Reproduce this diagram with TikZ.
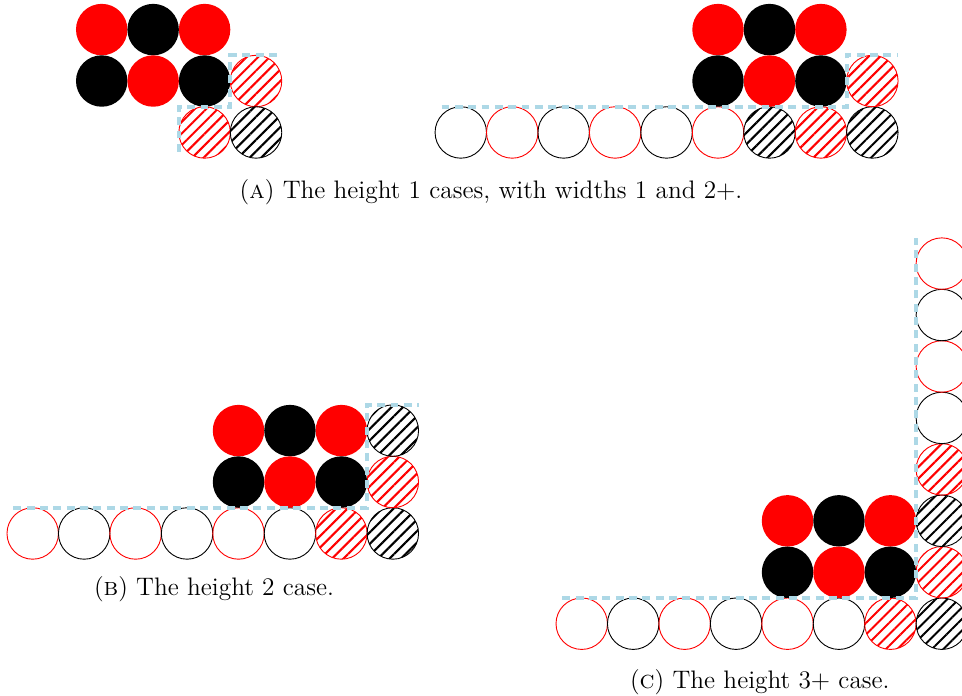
\documentclass[tikz,border=0pt]{standalone}
\usetikzlibrary{patterns.meta}
\definecolor{dashblue}{RGB}{173,216,230}

\begin{document}
\begin{tikzpicture}[x=0.8cm, y=0.8cm,
    redring/.style={draw=red, line width=0.4pt},
    blackring/.style={draw=black, line width=0.4pt},
    redhatch/.style={draw=red, line width=0.4pt, pattern={Lines[angle=45,distance=3.6pt,line width=0.9pt]}, pattern color=red},
    blackhatch/.style={draw=black, line width=0.4pt, pattern={Lines[angle=45,distance=3.6pt,line width=0.9pt]}, pattern color=black},
    frontier/.style={dashblue, line width=1.7pt, dash pattern=on 3.5pt off 2.4pt},
    subcap/.style={anchor=base, font=\fontsize{11.2pt}{13.6pt}\selectfont}]
    \useasboundingbox (0,0) rectangle (18.70,13.51);
    \clip (0,0) rectangle (18.70,13.51);

    % --- (a) left: height 1, width 1 ---
    \begin{scope}[shift={(1.977,10.935)}]
        \foreach \x/\y/\c in {0/2/red, 1/2/black, 2/2/red, 0/1/black, 1/1/red, 2/1/black}
            \fill[\c] (\x,\y) circle (0.5);
        \draw[redhatch] (3,1) circle (0.5);
        \draw[redhatch] (2,0) circle (0.5);
        \draw[blackhatch] (3,0) circle (0.5);
        \draw[frontier] (1.5,-0.375) -- (1.5,0.5) -- (2.5,0.5) -- (2.5,1.5) -- (3.5,1.5);
    \end{scope}

    % --- (a) right: height 1, width 2+ ---
    \begin{scope}[shift={(8.957,10.935)}]
        \foreach \x/\c in {0/black, 1/red, 2/black, 3/red, 4/black, 5/red}
            \draw[\c ring] (\x,0) circle (0.5);
        \draw[blackhatch] (6,0) circle (0.5);
        \draw[redhatch] (7,0) circle (0.5);
        \draw[blackhatch] (8,0) circle (0.5);
        \foreach \x/\y/\c in {5/2/red, 6/2/black, 7/2/red, 5/1/black, 6/1/red, 7/1/black}
            \fill[\c] (\x,\y) circle (0.5);
        \draw[redhatch] (8,1) circle (0.5);
        \draw[frontier] (-0.375,0.5) -- (7.5,0.5) -- (7.5,1.5) -- (8.5,1.5);
    \end{scope}

    \node[subcap] (capA) at (9.545,9.66) {(\textsc{a}) The height 1 cases, with widths 1 and 2+.};

    % --- (b) height 2 ---
    \begin{scope}[shift={(0.636,3.140)}]
        \foreach \x/\c in {0/red, 1/black, 2/red, 3/black, 4/red, 5/black}
            \draw[\c ring] (\x,0) circle (0.5);
        \draw[redhatch] (6,0) circle (0.5);
        \draw[blackhatch] (7,0) circle (0.5);
        \foreach \x/\y/\c in {4/2/red, 5/2/black, 6/2/red, 4/1/black, 5/1/red, 6/1/black}
            \fill[\c] (\x,\y) circle (0.5);
        \draw[redhatch] (7,1) circle (0.5);
        \draw[blackhatch] (7,2) circle (0.5);
        \draw[frontier] (-0.375,0.5) -- (6.5,0.5) -- (6.5,2.5) -- (7.5,2.5);
    \end{scope}

    \node[subcap] (capB) at (4.16,1.944) {(\textsc{b}) The height 2 case.};

    % --- (c) height 3+ ---
    \begin{scope}[shift={(11.308,1.386)}]
        \foreach \x/\c in {0/red, 1/black, 2/red, 3/black, 4/red, 5/black}
            \draw[\c ring] (\x,0) circle (0.5);
        \draw[redhatch] (6,0) circle (0.5);
        \foreach \y/\c in {0/blackhatch, 1/redhatch, 2/blackhatch, 3/redhatch, 4/blackring, 5/redring, 6/blackring, 7/redring}
            \draw[\c] (7,\y) circle (0.5);
        \foreach \x/\y/\c in {4/2/red, 5/2/black, 6/2/red, 4/1/black, 5/1/red, 6/1/black}
            \fill[\c] (\x,\y) circle (0.5);
        \draw[frontier] (-0.375,0.5) -- (6.5,0.5) -- (6.5,7.5);
    \end{scope}

    \node[subcap] (capC) at (14.77,0.136) {(\textsc{c}) The height 3+ case.};

\end{tikzpicture}
\end{document}
